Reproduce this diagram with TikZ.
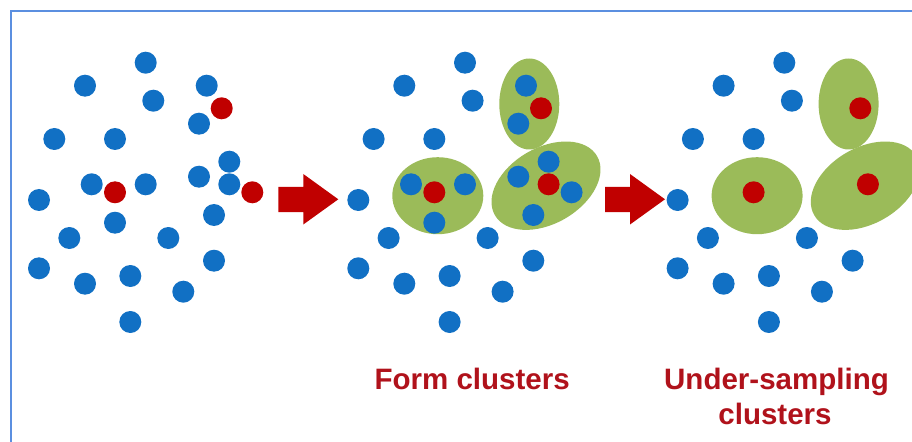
\documentclass[tikz,border=0pt]{standalone}
\usepackage{fontspec}
\setmainfont{Liberation Sans}
\definecolor{PtBlue}{HTML}{1170C4}
\definecolor{PtRed}{HTML}{C00000}
\definecolor{ClusterGreen}{HTML}{9BBB59}
\definecolor{HeadRed}{HTML}{B0121B}
\definecolor{FrameBlue}{HTML}{5B8FE0}

\begin{document}
\begin{tikzpicture}[
    x=0.02cm, y=-0.02cm,
    majority/.style={fill=PtBlue},
    minority/.style={fill=PtRed},
    cluster/.style={fill=ClusterGreen},
    heading/.style={text=HeadRed, font=\fontsize{16.8}{20}\selectfont\bfseries, inner sep=0pt, anchor=base}
]
    \useasboundingbox (0,0) rectangle (912,442);

    % Frame (only top and left edge are visible)
    \draw[FrameBlue, line width=1.1pt] (11,442) -- (11,11) -- (912,11);

    % Three panels: raw data, clusters formed, clusters under-sampled
    \foreach \dx/\stage in {0/1, 319.3/2, 638.6/3} {
      \begin{scope}[shift={(\dx,0)}]
        % Clusters round the minority points
        \ifnum\stage>1
          \fill[cluster] (210,104) ellipse (30 and 45.5);
          \fill[cluster] (118.5,195.7) ellipse (45.5 and 38.5);
          \fill[cluster, rotate around={30:(226.7,185.7)}] (226.7,185.7) ellipse (59 and 38);
        \fi

        % Majority points outside the clusters
        \foreach \x/\y in {145.7/62.7, 85/85.7, 153.3/100.7, 54.3/139, 115/139,
                           39/200, 69.3/238, 168.3/238, 39/268.3, 85/283.7,
                           130.3/276, 214/260.7, 183.3/291.7, 130.3/322}
          \fill[majority] (\x,\y) circle (11);

        % Majority points that end up in a cluster
        \ifnum\stage<3
          \foreach \x/\y in {206.7/85.7, 199/123.7, 91.7/184.3, 145.7/184.3,
                             115/222.7, 229.3/161.7, 199/176.7, 214/215}
            \fill[majority] (\x,\y) circle (11);
        \fi

        % Minority points
        \fill[minority] (221.7,108.3) circle (11);
        \fill[minority] (115,192.3) circle (11);
        \ifnum\stage=1
          \fill[majority] (229.3,184.3) circle (11);
          \fill[minority] (252.3,192.3) circle (11);
        \else
          \fill[minority] (229.3,184.3) circle (11);
          \ifnum\stage=2
            \fill[majority] (252.3,192.3) circle (11);
          \fi
        \fi
      \end{scope}
    }

    % Block arrows between the panels
    \foreach \ax in {0, 326.7}
      \fill[PtRed, shift={(\ax,0)}] (278.3,187) -- (303.3,187) -- (303.3,174)
        -- (338.3,199.3) -- (303.3,224.5) -- (303.3,212) -- (278.3,212) -- cycle;

    % Stage captions
    \node[heading] (formlbl) at (472.2,389.3) {Form clusters};
    \node[heading] (underlbl) at (776.5,389) {Under-sampling};
    \node[heading] (cluslbl) at (775,424) {clusters};
\end{tikzpicture}
\end{document}
